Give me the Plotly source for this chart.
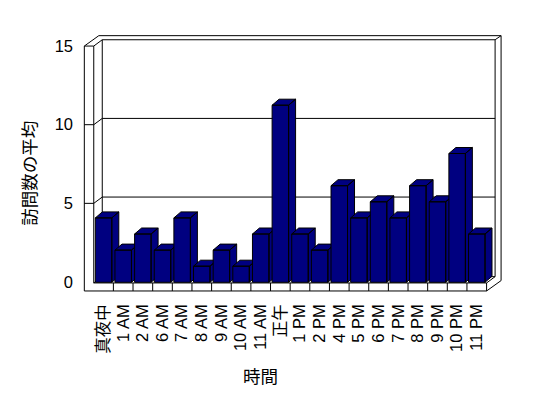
import plotly.graph_objects as go

# ---- data ----
categories = ["真夜中", "1 AM", "2 AM", "6 AM", "7 AM", "8 AM", "9 AM", "10 AM", "11 AM", "正午",
              "1 PM", "2 PM", "4 PM", "5 PM", "6 PM", "7 PM", "8 PM", "9 PM", "10 PM", "11 PM"]
avg_visits = [4, 2, 3, 2, 4, 1, 2, 1, 3, 11, 3, 2, 6, 4, 5, 4, 6, 5, 8, 3]
y_ticks = [0, 5, 10, 15]
x_title = "時間"
y_title = "訪問数の平均"

# ---- style / geometry ----
FONT = "Liberation Sans, Noto Sans CJK JP, sans-serif"
BAR_COLOR = "#000080"
EDGE = "black"
n = len(categories)
YTOP = y_ticks[-1]

# depth offsets (x in category units, y in value units)
WDX, WDY = 0.433, 0.40      # inner back wall
ODX, ODY = 0.738, 0.66      # outer back wall
LW = 0.48                   # left wall thickness
FTOP, FB = -0.06, -0.57     # floor top / bottom (front)
HW = 0.42                   # half bar width
BDX, BDY = 0.356, 0.373     # bar depth

x0, x1 = -0.5, n - 0.5

fig = go.Figure()

# bars (each bar: front, side, top faces) on a slightly larger front scale
for i, v in enumerate(avg_visits):
    xs, ys = [], []
    faces = [
        [(i - HW, 0), (i + HW, 0), (i + HW, v), (i - HW, v), (i - HW, 0)],
        [(i + HW, 0), (i + HW + BDX, BDY), (i + HW + BDX, v + BDY), (i + HW, v), (i + HW, 0)],
        [(i - HW, v), (i + HW, v), (i + HW + BDX, v + BDY), (i - HW + BDX, v + BDY), (i - HW, v)],
    ]
    for f in faces:
        xs += [p[0] for p in f] + [None]
        ys += [p[1] for p in f] + [None]
    fig.add_trace(go.Scatter(
        x=xs, y=ys, yaxis="y2", mode="lines", fill="toself",
        fillcolor=BAR_COLOR, line=dict(color=EDGE, width=1),
        hoverinfo="skip", showlegend=False))

# frame (walls, floor, gridlines)
segs = [
    # left wall
    ((x0 - LW, FB), (x0 - LW, YTOP)),
    ((x0, FTOP), (x0, YTOP)),
    ((x0 - LW, YTOP), (x0, YTOP)),
    ((x0 - LW, YTOP), (x0 - LW + ODX, YTOP + ODY)),
    ((x0, YTOP), (x0 + WDX, YTOP + WDY)),
    # back wall
    ((x0 - LW + ODX, YTOP + ODY), (x1 + ODX, YTOP + ODY)),
    ((x0 + WDX, YTOP + WDY), (x1 + WDX, YTOP + WDY)),
    ((x0 + WDX, FTOP + WDY), (x0 + WDX, YTOP + WDY)),
    ((x1 + WDX, FTOP + WDY), (x1 + WDX, YTOP + WDY)),
    ((x1 + ODX, FB + ODY), (x1 + ODX, YTOP + ODY)),
    ((x1 + WDX, YTOP + WDY), (x1 + ODX, YTOP + ODY)),
    ((x0 + WDX, FTOP + WDY), (x1 + WDX, FTOP + WDY)),
    ((x0, FTOP), (x0 + WDX, FTOP + WDY)),
    # floor
    ((x0, FTOP), (x1, FTOP)),
    ((x0 - LW, FB), (x1, FB)),
    ((x1, FTOP), (x1, FB)),
    ((x1, FTOP), (x1 + WDX, FTOP + WDY)),
    ((x1, FB), (x1 + ODX, FB + ODY)),
]
for v in y_ticks[1:-1]:
    segs.append(((x0 + WDX, v + WDY), (x1 + WDX, v + WDY)))
    segs.append(((x0, v), (x0 + WDX, v + WDY)))
    segs.append(((x0 - LW, v), (x0, v)))
for k in range(n - 1):
    segs.append(((k + 0.5, FTOP), (k + 0.5, FB)))

shapes = [dict(type="line", xref="x", yref="y", x0=a[0], y0=a[1], x1=b[0], y1=b[1],
               line=dict(color=EDGE, width=1), layer="below") for a, b in segs]

fig.update_layout(
    width=548, height=398,
    margin=dict(l=79.85, r=40, t=26, b=100, autoexpand=False),
    paper_bgcolor="white", plot_bgcolor="white",
    font=dict(family=FONT, size=16.5, color="#000000"),
    showlegend=False,
    shapes=shapes,
    xaxis=dict(range=[-1.2, 20.59], tickvals=list(range(n)), ticktext=categories,
               tickangle=-90, showgrid=False, zeroline=False, showline=False,
               ticks="", fixedrange=True, automargin=False, ticklabelstandoff=2),
    yaxis=dict(range=[-1.017, 16.275], tickvals=y_ticks, showgrid=False, zeroline=False,
               showline=False, ticks="", ticklabelstandoff=6, fixedrange=True,
               automargin=False),
    yaxis2=dict(range=[-0.975, 15.92], overlaying="y", visible=False, fixedrange=True),
    annotations=[
        dict(text=x_title, xref="paper", yref="paper", x=0.4217, y=-0.284,
             xanchor="center", yanchor="middle", showarrow=False,
             font=dict(family="Noto Sans CJK JP", size=17.5)),
        dict(text=y_title, xref="paper", yref="paper", x=-0.12, y=0.459,
             xanchor="center", yanchor="middle", showarrow=False, textangle=-90,
             font=dict(family="Noto Sans CJK JP", size=17.5)),
    ],
)

fig.write_html("out.html")
